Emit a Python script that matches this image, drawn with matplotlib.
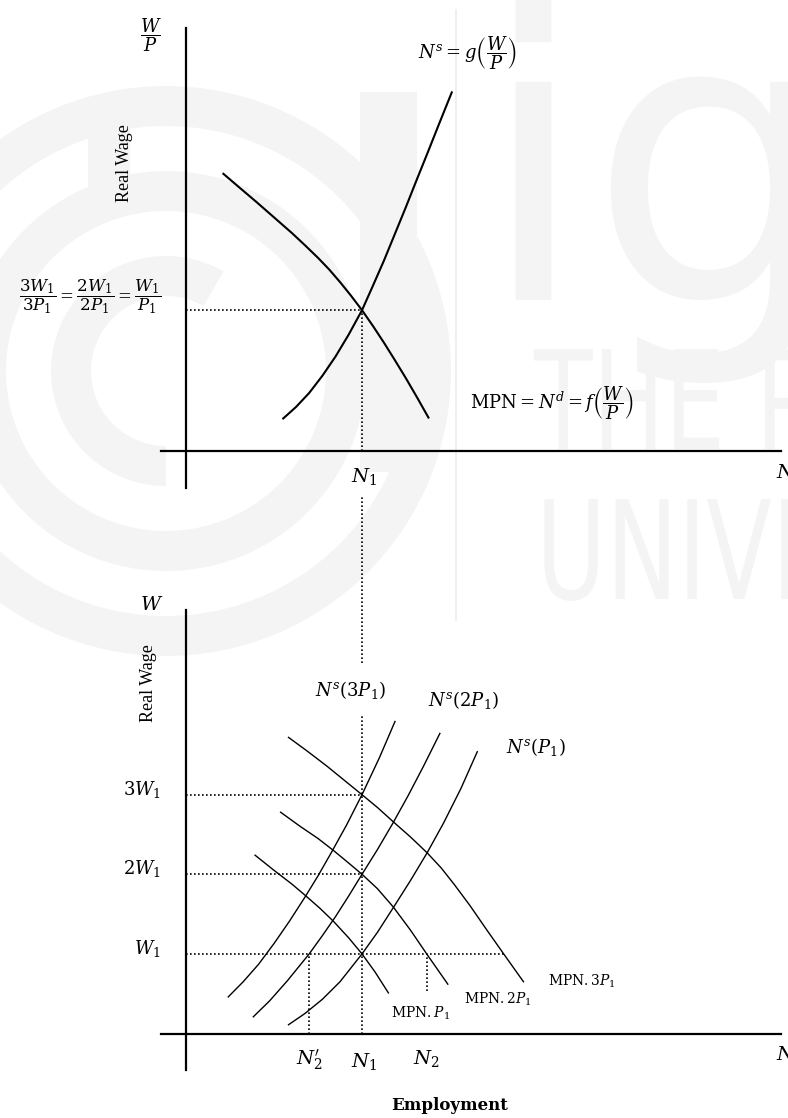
import matplotlib.pyplot as plt
from matplotlib.patches import Wedge, Rectangle, PathPatch
from matplotlib.textpath import TextPath
from matplotlib.font_manager import FontProperties
from matplotlib.transforms import Affine2D

plt.rcParams['mathtext.fontset'] = 'dejavuserif'
plt.rcParams['font.family'] = 'DejaVu Serif'

# --- upper diagram: labour market in real wage terms ---
n1 = 4.0          # equilibrium employment
real_w1 = 3.2     # W1/P1
mpn_n = [0.85, 1.2, 1.6, 2.0, 2.4, 2.7, 3.0, 3.25, 3.5, 3.75, 4.0,
         4.25, 4.5, 4.75, 5.0, 5.25, 5.51]
mpn_w = [6.30, 6.00, 5.66, 5.31, 4.96, 4.68, 4.39, 4.13, 3.84, 3.53, 3.2,
         2.84, 2.46, 2.06, 1.65, 1.22, 0.76]
ns_n = [2.21, 2.5, 2.8, 3.1, 3.4, 3.7, 4.0, 4.25, 4.5, 4.75, 5.0,
        5.25, 5.5, 5.75, 6.04]
ns_w = [0.74, 1.00, 1.32, 1.71, 2.15, 2.65, 3.2, 3.76, 4.33, 4.94, 5.55,
        6.18, 6.80, 7.43, 8.15]

# --- lower diagram: money wage, one curve per price level ---
w1 = 1.0
w_levels = [3 * w1, 2 * w1, w1]
w_labels = [r'$3W_1$', r'$2W_1$', r'$W_1$']
n2_dash = 2.8
n2 = 5.47
n3 = 7.22

ns3_n = [0.96, 1.3, 1.65, 2.0, 2.35, 2.7, 3.0, 3.3, 3.65, 4.0, 4.4, 4.75]
ns3_w = [0.46, 0.65, 0.87, 1.13, 1.41, 1.71, 1.98, 2.27, 2.62, 3.0, 3.47, 3.92]
ns2_n = [1.53, 1.9, 2.3, 2.8, 3.1, 3.4, 3.7, 4.0, 4.35, 4.7, 5.05, 5.4, 5.77]
ns2_w = [0.21, 0.41, 0.66, 1.0, 1.23, 1.47, 1.73, 2.0, 2.31, 2.64, 2.99, 3.36, 3.77]
ns1_n = [2.33, 2.7, 3.1, 3.5, 4.0, 4.35, 4.71, 5.1, 5.48, 5.85, 6.25, 6.62]
ns1_w = [0.11, 0.25, 0.43, 0.65, 1.0, 1.27, 1.58, 1.92, 2.27, 2.64, 3.08, 3.54]

mpn3_n = [2.33, 2.75, 3.2, 3.6, 4.0, 4.35, 4.71, 5.1, 5.48, 5.8, 6.1,
          6.45, 6.85, 7.22, 7.67]
mpn3_w = [3.72, 3.55, 3.36, 3.18, 3.0, 2.84, 2.66, 2.47, 2.27, 2.08, 1.87,
          1.61, 1.29, 1.0, 0.65]
mpn2_n = [2.15, 2.6, 3.0, 3.35, 3.7, 4.0, 4.35, 4.71, 5.1, 5.47, 5.95]
mpn2_w = [2.78, 2.60, 2.45, 2.30, 2.14, 2.0, 1.82, 1.59, 1.30, 1.0, 0.62]
mpn1_n = [1.57, 2.0, 2.4, 2.7, 3.05, 3.35, 3.7, 4.0, 4.3, 4.6]
mpn1_w = [2.24, 2.05, 1.88, 1.74, 1.57, 1.41, 1.20, 1.0, 0.77, 0.51]

W, H = 788, 1118
X0, PX_N = 186, 44.0          # origin column and pixels per unit of N
Y0_TOP, PX_TOP = 451, 44.0
Y0_BOT, PX_BOT = 1033.5, 79.6

fig = plt.figure(figsize=(W / 100, H / 100), dpi=100)

# faint watermark in the background (pixel space)
bg = fig.add_axes([0, 0, 1, 1])
bg.set_xlim(0, W)
bg.set_ylim(H, 0)
bg.set_axis_off()
wm = '#f4f4f4'
for r in (285, 200):
    bg.add_patch(Wedge((166, 371), r, 0, 360, width=40, color=wm, lw=0))
bg.add_patch(Wedge((166, 371), 115, 90, 300, width=40, color=wm, lw=0))
bg.add_patch(Rectangle((88, 97), 42, 118, color=wm, lw=0))
bg.add_patch(Rectangle((360, 92), 57, 380, color=wm, lw=0))
bg.plot([456, 456], [10, 620], color='#ececec', lw=1.2)


def wm_text(s, x, base, k, sx=1.0):
    tp = TextPath((0, 0), s, size=100, prop=FontProperties(family='DejaVu Sans'))
    tr = Affine2D().scale(k * sx / 100, -k / 100).translate(x, base) + bg.transData
    bg.add_patch(PathPatch(tp, transform=tr, color=wm, lw=0))


wm_text('ignou', 478, 300, 399)
wm_text("THE PEOPLE'S", 534, 449, 137, sx=0.7)
wm_text('UNIVERSITY', 536, 599, 137, sx=0.7)


def panel(y0, scale):
    ax = fig.add_axes([0, 0, 1, 1])
    ax.set_xlim(-X0 / PX_N, (W - X0) / PX_N)
    ax.set_ylim(-(H - y0) / scale, y0 / scale)
    ax.set_axis_off()
    ax.patch.set_alpha(0)
    return ax


dots = dict(color='black', lw=1.2, ls=(0, (1, 1.4)))

# ---------------- upper panel ----------------
top = panel(Y0_TOP, PX_TOP)
top.plot([0, 0], [-0.84, 9.61], color='black', lw=1.6)
top.plot([-0.57, 13.52], [0, 0], color='black', lw=1.6)
top.plot(mpn_n, mpn_w, color='black', lw=1.5)
top.plot(ns_n, ns_w, color='black', lw=1.5)
top.plot([0, n1], [real_w1, real_w1], **dots)
top.plot([n1, n1], [0, real_w1], **dots)

top.text(-0.80, 9.45, r'$\dfrac{W}{P}$', fontsize=13, ha='center', va='center')
top.text(-1.39, 6.55, 'Real Wage', family='Liberation Serif', fontsize=13,
         rotation=90, ha='center', va='center')
top.text(-0.55, 3.5, r'$\dfrac{3W_1}{3P_1}=\dfrac{2W_1}{2P_1}=\dfrac{W_1}{P_1}$',
         fontsize=12, ha='right', va='center')
top.text(5.27, 9.05, r'$N^s = g\left(\dfrac{W}{P}\right)$', fontsize=13,
         ha='left', va='center')
top.text(6.45, 1.09, r'$\mathrm{MPN} = N^d = f\left(\dfrac{W}{P}\right)$',
         fontsize=13, ha='left', va='center')
top.text(n1 + 0.05, -0.57, r'$N_1$', fontsize=14, ha='center', va='center')
top.text(13.41, -0.5, r'$N$', fontsize=14, ha='left', va='center')

# ---------------- lower panel ----------------
bot = panel(Y0_BOT, PX_BOT)
bot.plot([0, 0], [-0.46, 5.32], color='black', lw=1.6)
bot.plot([-0.57, 13.52], [0, 0], color='black', lw=1.6)
for xs, ys in [(ns3_n, ns3_w), (ns2_n, ns2_w), (ns1_n, ns1_w),
               (mpn3_n, mpn3_w), (mpn2_n, mpn2_w), (mpn1_n, mpn1_w)]:
    bot.plot(xs, ys, color='black', lw=1.0)

# guides from the upper equilibrium down to the money-wage axis
bot.plot([n1, n1], [4.65, 6.77], **dots)
bot.plot([n1, n1], [0, 4.0], **dots)
bot.plot([0, n1], [w_levels[0]] * 2, **dots)
bot.plot([0, n1], [w_levels[1]] * 2, **dots)
bot.plot([0, n3], [w1, w1], **dots)
bot.plot([n2_dash, n2_dash], [0, w1], **dots)
bot.plot([n2, n2], [0.53, w1], **dots)

for lv, lab in zip(w_levels, w_labels):
    bot.text(-0.57, lv + 0.07, lab, fontsize=13, ha='right', va='center')

bot.text(-0.77, 5.38, r'$W$', fontsize=14, ha='center', va='center')
bot.text(-0.86, 4.40, 'Real Wage', family='Liberation Serif', fontsize=13,
         rotation=90, ha='center', va='center')
bot.text(3.75, 4.31, r'$N^s(3P_1)$', fontsize=13, ha='center', va='center')
bot.text(6.30, 4.19, r'$N^s(2P_1)$', fontsize=13, ha='center', va='center')
bot.text(7.95, 3.60, r'$N^s(P_1)$', fontsize=13, ha='center', va='center')
bot.text(5.32, 0.26, r'$\mathrm{MPN}.P_1$', fontsize=10, ha='center', va='center')
bot.text(7.09, 0.43, r'$\mathrm{MPN}.2P_1$', fontsize=10, ha='center', va='center')
bot.text(9.0, 0.65, r'$\mathrm{MPN}.3P_1$', fontsize=10, ha='center', va='center')
bot.text(n2_dash, -0.33, r"$N_2'$", fontsize=14, ha='center', va='center')
bot.text(n1 + 0.05, -0.35, r'$N_1$', fontsize=14, ha='center', va='center')
bot.text(n2, -0.31, r'$N_2$', fontsize=14, ha='center', va='center')
bot.text(13.41, -0.27, r'$N$', fontsize=14, ha='left', va='center')
bot.text(6.0, -0.91, 'Employment', fontsize=12, fontweight='bold',
         ha='center', va='center')

fig.savefig('out.png', dpi=100)
